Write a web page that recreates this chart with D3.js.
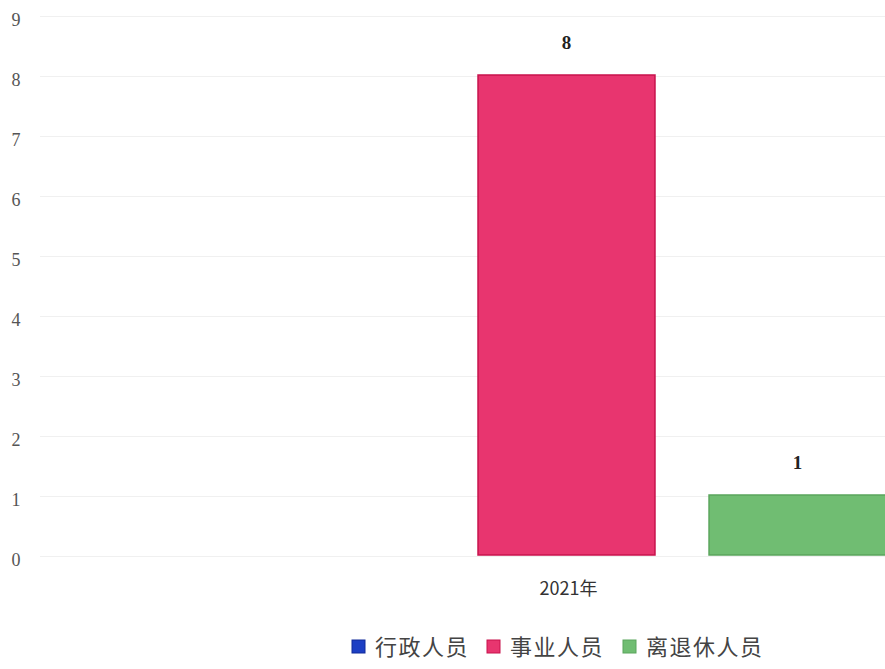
<!DOCTYPE html>
<html>
<head>
<meta charset="utf-8">
<script src="https://cdn.jsdelivr.net/npm/d3@7"></script>
<style>
  body { margin: 0; background: #fff; }
  svg { display: block; }
</style>
</head>
<body>
<svg></svg>
<script>
// data
const years = ["2021年"];
const series = ["行政人员", "事业人员", "离退休人员"];
const values = [0, 8, 1];
const yTicks = [0, 1, 2, 3, 4, 5, 6, 7, 8, 9];
const colors = ["#1d3fc4", "#e8356f", "#70bd72"];
const borders = ["#102a9a", "#c8124c", "#5aa55c"];

const width = 885,
  height = 669;

const svg = d3.select("svg").attr("width", width).attr("height", height);

const y_scale = d3.scaleLinear().domain([0, 9]).range([556, 16]);

// group scale, plot runs past the right edge of the picture
const x0 = d3.scaleBand().domain(years).range([247, 886]);
const x1 = d3
  .scaleBand()
  .domain(series)
  .range([0, x0.bandwidth()])
  .paddingInner(0.234);

// faint gridlines
svg
  .append("g")
  .attr("transform", "translate(40,0)")
  .call(
    d3.axisLeft(y_scale).tickValues(yTicks).tickSize(-(width - 40)).tickFormat("")
  )
  .call((g) => g.select(".domain").remove())
  .call((g) => g.selectAll("line").attr("stroke", "#f0f0f0"));

// y tick labels
svg
  .append("g")
  .selectAll("text")
  .data(yTicks)
  .join("text")
  .attr("x", 16)
  .attr("y", (d) => y_scale(d) + 4)
  .attr("dy", "0.35em")
  .attr("text-anchor", "middle")
  .style("font-family", "Liberation Serif, serif")
  .style("font-size", "18px")
  .style("fill", "#555")
  .text((d) => d);

const group = svg
  .append("g")
  .selectAll("g")
  .data(years)
  .join("g")
  .attr("transform", (d) => `translate(${x0(d)},0)`);

// bars
group
  .selectAll("rect")
  .data(series.map((s, i) => ({ s, v: values[i], i })))
  .join("rect")
  .attr("x", (d) => x1(d.s))
  .attr("y", (d) => y_scale(d.v) - 1)
  .attr("width", x1.bandwidth())
  .attr("height", (d) => Math.max(0, y_scale(0) - y_scale(d.v)))
  .attr("fill", (d) => colors[d.i])
  .attr("stroke", (d) => (d.v > 0 ? borders[d.i] : "none"))
  .attr("stroke-width", 1.5);

// value labels
group
  .selectAll("text.val")
  .data(series.map((s, i) => ({ s, v: values[i], i })).filter((d) => d.v > 0))
  .join("text")
  .attr("class", "val")
  .attr("x", (d) => x1(d.s) + x1.bandwidth() / 2)
  .attr("y", (d) => y_scale(d.v) - 27)
  .attr("text-anchor", "middle")
  .style("font-family", "Liberation Serif, serif")
  .style("font-weight", "bold")
  .style("font-size", "19px")
  .style("fill", "#222")
  .text((d) => d.v);

// category label
svg
  .append("g")
  .selectAll("text")
  .data(years)
  .join("text")
  .attr("x", (d) => x0(d) + x0.bandwidth() / 2 + 2)
  .attr("y", 595)
  .attr("text-anchor", "middle")
  .style("font-family", "Noto Sans CJK SC, sans-serif")
  .style("font-size", "18px")
  .style("fill", "#333")
  .text((d) => d);

// legend
const legendX = [352, 487, 623];
const legend = svg
  .append("g")
  .selectAll("g")
  .data(series)
  .join("g")
  .attr("transform", (d, i) => `translate(${legendX[i]},640)`);

legend
  .append("rect")
  .attr("width", 13)
  .attr("height", 13)
  .attr("fill", (d, i) => colors[i])
  .attr("stroke", (d, i) => borders[i]);

legend
  .append("text")
  .attr("x", 23)
  .attr("y", 7)
  .attr("dy", "0.35em")
  .style("font-family", "Noto Sans CJK SC, sans-serif")
  .style("font-size", "22px")
  .style("letter-spacing", "1.5px")
  .style("fill", "#444")
  .text((d) => d);
</script>
</body>
</html>
